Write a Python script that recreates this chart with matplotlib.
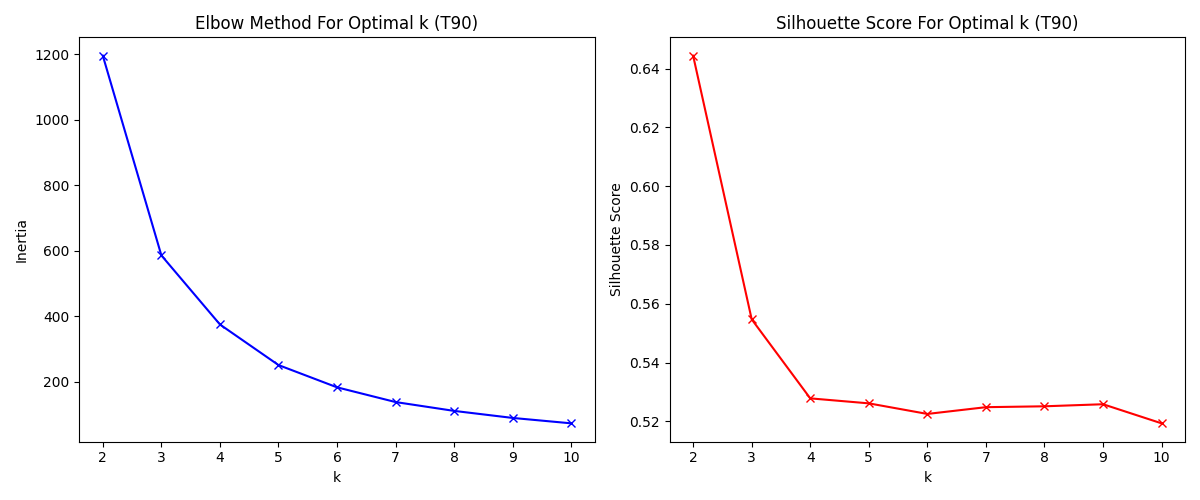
import matplotlib
matplotlib.use("Agg")
import matplotlib.pyplot as plt

k_values = [2, 3, 4, 5, 6, 7, 8, 9, 10]
inertia = [1196, 586, 375, 251, 183, 138, 111, 89.5, 73]
silhouette = [0.6444, 0.5547, 0.5278, 0.5261, 0.5225, 0.5248, 0.5251, 0.5258, 0.5193]

fig, (ax1, ax2) = plt.subplots(1, 2, figsize=(12, 5), dpi=100)

ax1.plot(k_values, inertia, 'bx-')
ax1.set_xlabel('k')
ax1.set_ylabel('Inertia')
ax1.set_title('Elbow Method For Optimal k (T90)')

ax2.plot(k_values, silhouette, 'rx-')
ax2.set_xlabel('k')
ax2.set_ylabel('Silhouette Score')
ax2.set_title('Silhouette Score For Optimal k (T90)')

plt.tight_layout()
plt.savefig('out.png')
